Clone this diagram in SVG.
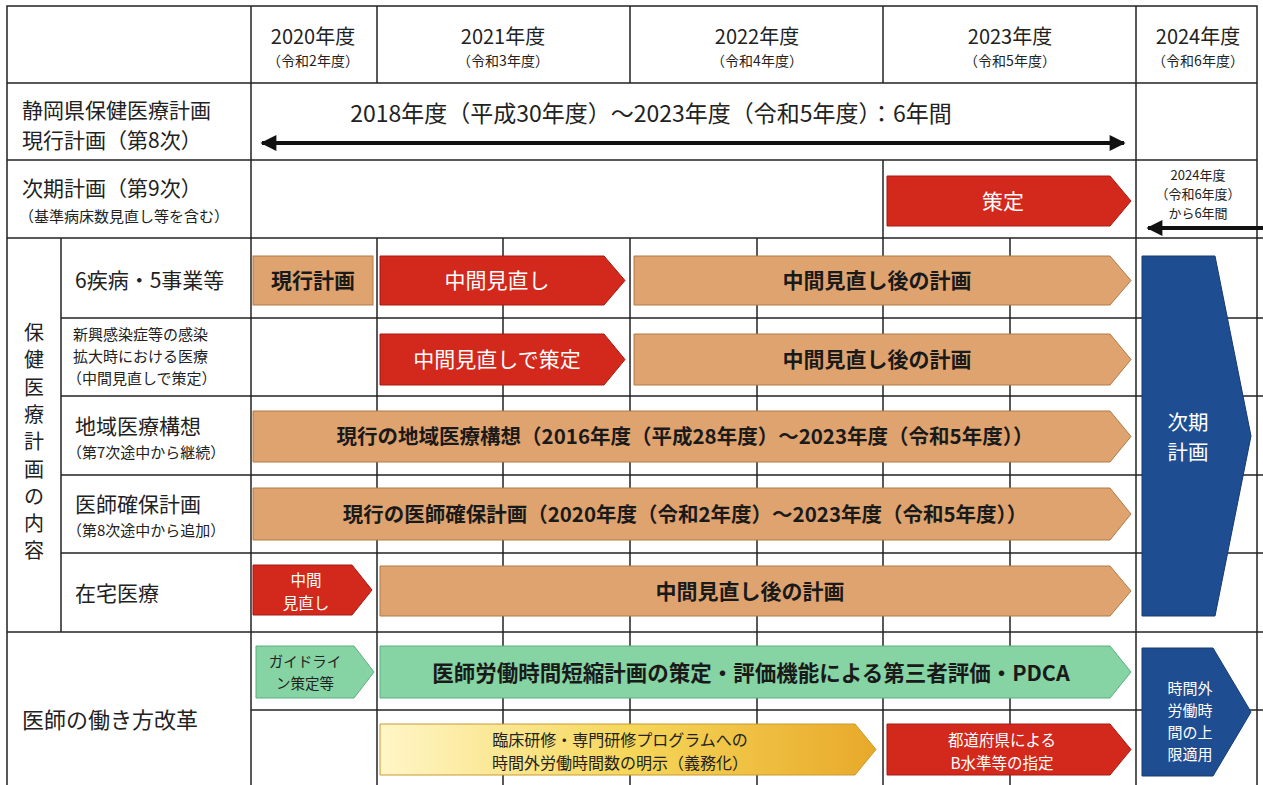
<svg xmlns="http://www.w3.org/2000/svg" width="1263" height="785" viewBox="0 0 1263 785">
<style>
text{font-family:"Noto Sans CJK JP","Noto Sans",sans-serif;fill:#222}
.g{stroke:#222;stroke-width:1.5;fill:none}
.lb{font-size:21px}
.sm{font-size:15px}
.hy{font-size:20px;text-anchor:middle}
.hs{font-size:14px;text-anchor:middle}
.tan{fill:#DFA36F;stroke:#B07A45;stroke-width:1}
.red{fill:#D3281C;stroke:#A81A10;stroke-width:1}
.grn{fill:#86D3A3;stroke:#5BAF7E;stroke-width:1}
.blu{fill:#1F4D92;stroke:#163B70;stroke-width:1}
.bt{font-weight:bold;text-anchor:middle;fill:#1a1a1a}
.wt{text-anchor:middle;fill:#fff}
</style>
<defs>
<linearGradient id="yel" x1="0" y1="0" x2="1" y2="0">
<stop offset="0" stop-color="#FFF6C8"/>
<stop offset="0.5" stop-color="#F6D75A"/>
<stop offset="1" stop-color="#E8A92A"/>
</linearGradient>
<marker id="ah" viewBox="0 0 10 10" refX="9" refY="5" markerWidth="5" markerHeight="4" orient="auto-start-reverse" markerUnits="strokeWidth">
<path d="M0,0 L10,5 L0,10 z" fill="#111"/>
</marker>
</defs>
<rect width="1263" height="785" fill="#fff"/>

<g id="grid">
<rect x="7" y="6" width="1250" height="790" class="g"/>
<line x1="7" y1="83" x2="1257" y2="83" class="g"/>
<line x1="7" y1="160" x2="1257" y2="160" class="g"/>
<line x1="7" y1="238" x2="1263" y2="238" class="g"/>
<line x1="61" y1="318" x2="1263" y2="318" class="g"/>
<line x1="61" y1="396" x2="1263" y2="396" class="g"/>
<line x1="61" y1="475" x2="1263" y2="475" class="g"/>
<line x1="61" y1="553" x2="1263" y2="553" class="g"/>
<line x1="7" y1="632" x2="1263" y2="632" class="g"/>
<line x1="251" y1="710" x2="1263" y2="710" class="g"/>
<line x1="61" y1="238" x2="61" y2="632" class="g"/>
<line x1="251" y1="6" x2="251" y2="785" class="g"/>
<line x1="377" y1="6" x2="377" y2="83" class="g"/>
<line x1="630" y1="6" x2="630" y2="83" class="g"/>
<line x1="883" y1="6" x2="883" y2="83" class="g"/>
<line x1="883" y1="160" x2="883" y2="785" class="g"/>
<line x1="1136" y1="6" x2="1136" y2="785" class="g"/>
<line x1="377" y1="238" x2="377" y2="785" class="g"/>
<line x1="503" y1="238" x2="503" y2="785" class="g"/>
<line x1="630" y1="238" x2="630" y2="785" class="g"/>
<line x1="757" y1="238" x2="757" y2="785" class="g"/>
<line x1="1010" y1="238" x2="1010" y2="785" class="g"/>
</g>

<g id="header">
<text x="313" y="44" class="hy">2020年度</text>
<text x="313" y="66" class="hs">（令和2年度）</text>
<text x="503" y="44" class="hy">2021年度</text>
<text x="503" y="66" class="hs">（令和3年度）</text>
<text x="757" y="44" class="hy">2022年度</text>
<text x="757" y="66" class="hs">（令和4年度）</text>
<text x="1010" y="44" class="hy">2023年度</text>
<text x="1010" y="66" class="hs">（令和5年度）</text>
<text x="1198" y="44" class="hy">2024年度</text>
<text x="1198" y="66" class="hs">（令和6年度）</text>
</g>

<g id="row-labels">
<text x="22" y="118" style="font-size:21px">静岡県保健医療計画</text>
<text x="22" y="148" style="font-size:21px">現行計画（第8次）</text>
<text x="22" y="196" style="font-size:21px">次期計画（第9次）</text>
<text x="19" y="222" class="sm">（基準病床数見直し等を含む）</text>
<g style="font-size:20px;text-anchor:middle">
<text x="34" y="340">保</text><text x="34" y="367">健</text><text x="34" y="395">医</text><text x="34" y="422">療</text><text x="34" y="449">計</text><text x="34" y="477">画</text><text x="34" y="504">の</text><text x="34" y="531">内</text><text x="34" y="558">容</text>
</g>
<text x="75" y="288" class="lb">6疾病・5事業等</text>
<text x="73" y="340" class="sm">新興感染症等の感染</text>
<text x="73" y="362" class="sm">拡大時における医療</text>
<text x="67" y="384" class="sm">（中間見直しで策定）</text>
<text x="75" y="434" class="lb">地域医療構想</text>
<text x="67" y="458" class="sm">（第7次途中から継続）</text>
<text x="75" y="512" class="lb">医師確保計画</text>
<text x="67" y="536" class="sm">（第8次途中から追加）</text>
<text x="75" y="601" class="lb">在宅医療</text>
<text x="22" y="728" style="font-size:22px">医師の働き方改革</text>
</g>

<g id="connectors">
<line x1="262" y1="143" x2="1124" y2="143" stroke="#111" stroke-width="4" marker-start="url(#ah)" marker-end="url(#ah)"/>
<line x1="1263" y1="228" x2="1148" y2="228" stroke="#111" stroke-width="4" marker-end="url(#ah)"/>
</g>

<g id="current-plan-period">
<text x="651" y="122" style="font-size:23px;text-anchor:middle">2018年度（平成30年度）～2023年度（令和5年度）：6年間</text>
</g>

<g id="next-plan">
<polygon points="887,176 1110,176 1131,201 1110,226 887,226" class="red"/>
<text x="1003" y="209" class="wt" style="font-size:21px">策定</text>
<text x="1198" y="180" style="font-size:13px;text-anchor:middle">2024年度</text>
<text x="1198" y="199" style="font-size:13px;text-anchor:middle">（令和6年度）</text>
<text x="1198" y="218" style="font-size:13px;text-anchor:middle">から6年間</text>
</g>

<g id="row-6shippei">
<rect x="253" y="256" width="120" height="49" class="tan"/>
<text x="313" y="288" class="bt" style="font-size:21px">現行計画</text>
<polygon points="380,256 604,256 625,280.5 604,305 380,305" class="red"/>
<text x="497" y="288" class="wt" style="font-size:21px">中間見直し</text>
<polygon points="634,256 1110,256 1131,280.5 1110,305 634,305" class="tan"/>
<text x="877" y="288" class="bt" style="font-size:21px">中間見直し後の計画</text>
</g>

<g id="row-shinko">
<polygon points="380,334 604,334 625,359.5 604,385 380,385" class="red"/>
<text x="497" y="367" class="wt" style="font-size:21px">中間見直しで策定</text>
<polygon points="634,334 1110,334 1131,359.5 1110,385 634,385" class="tan"/>
<text x="877" y="367" class="bt" style="font-size:21px">中間見直し後の計画</text>
</g>

<g id="row-chiiki">
<polygon points="253,411 1110,411 1131,436.5 1110,462 253,462" class="tan"/>
<text x="685" y="444" class="bt" style="font-size:20.5px">現行の地域医療構想（2016年度（平成28年度）～2023年度（令和5年度））</text>
</g>

<g id="row-ishikakuho">
<polygon points="253,488 1110,488 1131,514 1110,540 253,540" class="tan"/>
<text x="685" y="522" class="bt" style="font-size:20.5px">現行の医師確保計画（2020年度（令和2年度）～2023年度（令和5年度））</text>
</g>

<g id="row-zaitaku">
<polygon points="253,565 352,565 372,590 352,615 253,615" class="red"/>
<text x="306" y="586" class="wt" style="font-size:15.5px">中間</text>
<text x="306" y="609" class="wt" style="font-size:15.5px">見直し</text>
<polygon points="380,566 1110,566 1131,591 1110,616 380,616" class="tan"/>
<text x="750" y="599" class="bt" style="font-size:21px">中間見直し後の計画</text>
</g>

<g id="next-plan-big">
<polygon points="1142,256 1215,256 1251,436 1215,616 1142,616" class="blu"/>
<text x="1188" y="430" class="wt" style="font-size:20.5px">次期</text>
<text x="1188" y="460" class="wt" style="font-size:20.5px">計画</text>
</g>

<g id="work-reform">
<polygon points="256,646 354,646 374,672 354,698 256,698" class="grn"/>
<text x="305" y="667" style="font-size:14.5px;text-anchor:middle">ガイドライ</text>
<text x="305" y="689" style="font-size:14.5px;text-anchor:middle">ン策定等</text>
<polygon points="380,646 1110,646 1131,672 1110,698 380,698" class="grn"/>
<text x="751" y="681" class="bt" style="font-size:21.5px">医師労働時間短縮計画の策定・評価機能による第三者評価・PDCA</text>
<polygon points="380,724 855,724 876,749.5 855,775 380,775" fill="url(#yel)" stroke="#C89A30" stroke-width="1"/>
<text x="620" y="746" style="font-size:16px;text-anchor:middle">臨床研修・専門研修プログラムへの</text>
<text x="620" y="769" style="font-size:16px;text-anchor:middle">時間外労働時間数の明示（義務化）</text>
<polygon points="887,724 1110,724 1131,749.5 1110,775 887,775" class="red"/>
<text x="1002" y="746" class="wt" style="font-size:15.5px">都道府県による</text>
<text x="1002" y="769" class="wt" style="font-size:15.5px">B水準等の指定</text>
<polygon points="1142,648 1213,648 1251,712 1213,776 1142,776" class="blu"/>
<text x="1190" y="694" class="wt" style="font-size:15px">時間外</text>
<text x="1190" y="716" class="wt" style="font-size:15px">労働時</text>
<text x="1190" y="738" class="wt" style="font-size:15px">間の上</text>
<text x="1190" y="760" class="wt" style="font-size:15px">限適用</text>
</g>
</svg>
